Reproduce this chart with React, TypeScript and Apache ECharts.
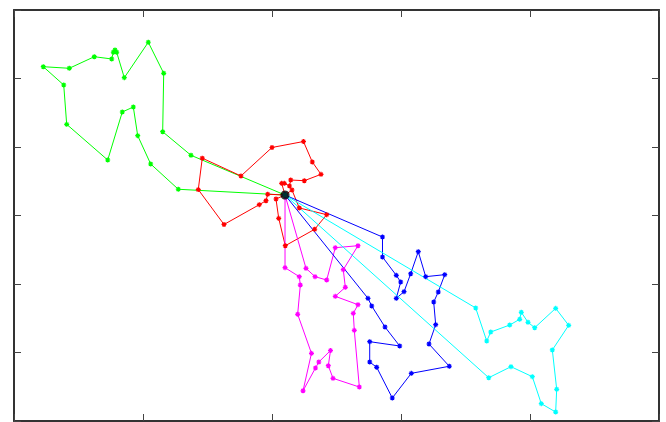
import React, { useEffect, useRef } from "react";
import * as echarts from "echarts";

const depot: [number, number] = [42.02, 32.99];

const greenRoute: [number, number][] = [
  [42.02, 32.99], [27.44, 38.79], [23.05, 42.23], [23.21, 50.76], [20.82, 55.29],
  [17.10, 50.12], [15.92, 53.83], [15.66, 54.16], [15.40, 53.83], [15.15, 52.85],
  [12.45, 53.18], [8.57, 51.49], [4.54, 51.72], [7.71, 49.05], [8.17, 43.31],
  [14.53, 38.10], [16.79, 45.11], [18.50, 45.84], [19.18, 41.65], [21.19, 37.52],
  [25.47, 33.83], [42.02, 32.99],
];

const redRoute: [number, number][] = [
  [42.02, 32.99], [43.10, 33.72], [44.23, 31.10], [48.48, 30.12], [46.62, 27.99],
  [42.06, 25.59], [41.04, 29.59], [40.62, 32.41], [42.02, 32.99],
  [39.33, 33.10], [39.07, 32.16], [38.03, 31.58], [32.56, 28.69], [28.57, 33.78],
  [29.19, 38.37], [35.19, 35.77], [40.00, 39.93], [44.88, 40.80], [46.25, 37.81],
  [47.60, 36.01], [45.01, 35.08], [42.90, 35.18], [42.71, 34.31], [41.91, 34.70],
  [41.50, 34.70], [42.02, 32.99],
];

const magentaRoute: [number, number][] = [
  [42.02, 32.99], [42.02, 22.38], [44.23, 21.07], [44.39, 19.85], [43.98, 15.58],
  [46.12, 9.88], [44.81, 4.41], [46.74, 7.74], [47.26, 8.61], [49.07, 10.29],
  [48.73, 8.07], [49.46, 6.23], [53.54, 4.96], [52.76, 13.24], [52.60, 15.72],
  [53.33, 16.98], [49.81, 18.20], [51.37, 19.52], [51.05, 22.09], [53.33, 25.59],
  [49.81, 25.30], [48.48, 20.58], [46.67, 21.07], [45.27, 22.29], [42.02, 32.99],
];

const blueRoute: [number, number][] = [
  [42.02, 32.99], [57.13, 26.86], [57.13, 23.94], [59.27, 21.27], [59.95, 20.29],
  [59.27, 17.91], [60.47, 18.88], [61.50, 21.50], [62.68, 24.72], [63.83, 21.07],
  [66.78, 21.36], [65.78, 18.83], [65.07, 17.37], [65.38, 14.06], [64.34, 11.24],
  [67.49, 7.99], [61.60, 6.96], [58.65, 3.36], [56.23, 7.84], [55.15, 8.61],
  [55.15, 11.58], [59.80, 10.95], [57.52, 13.72], [55.46, 16.79], [54.88, 17.91],
  [42.02, 32.99],
];

const cyanRoute: [number, number][] = [
  [42.02, 32.99], [71.58, 16.50], [73.29, 11.68], [73.91, 12.99], [76.85, 14.01],
  [78.40, 14.85], [78.65, 15.87], [79.69, 14.41], [80.73, 13.62], [83.98, 16.45],
  [86.00, 13.97], [83.46, 10.37], [84.14, 4.63], [83.98, 1.31], [81.75, 2.53],
  [80.36, 6.47], [77.05, 7.93], [73.60, 6.32], [42.02, 32.99],
];

const routes = [
  { name: "Route 1", data: greenRoute, color: "#00ff00" },
  { name: "Route 2", data: redRoute, color: "#ff0000" },
  { name: "Route 3", data: magentaRoute, color: "#ff00ff" },
  { name: "Route 4", data: blueRoute, color: "#0000ff" },
  { name: "Route 5", data: cyanRoute, color: "#00ffff" },
];

const STAR = "path://M5,0L5,10M0,5L10,5M1.5,1.5L8.5,8.5M1.5,8.5L8.5,1.5";

export default function App() {
  const ref = useRef<HTMLDivElement>(null);
  useEffect(() => {
    if (!ref.current) return;
    const chart = echarts.init(ref.current, null, { renderer: "svg" });
    const axisLine = { show: true, onZero: false, lineStyle: { color: "#333333", width: 2 } };
    const axisTick = { show: true, inside: true, length: 7, lineStyle: { color: "#444444", width: 1 } };
    const xBase = {
      type: "value" as const, min: 0, max: 100, interval: 20,
      axisLine, axisTick, axisLabel: { show: false }, splitLine: { show: false },
    };
    const yBase = {
      type: "value" as const, min: 0, max: 60, interval: 10,
      axisLine, axisTick, axisLabel: { show: false }, splitLine: { show: false },
    };
    chart.setOption({
      animation: false,
      backgroundColor: "#ffffff",
      grid: { left: 14, right: 7, top: 10, bottom: 1, containLabel: false },
      xAxis: [
        { ...xBase, position: "bottom" },
        { ...xBase, position: "top" },
      ],
      yAxis: [
        { ...yBase, position: "left" },
        { ...yBase, position: "right" },
      ],
      series: [
        ...routes.map((r) => ({
          name: r.name,
          type: "line",
          data: r.data,
          xAxisIndex: 0,
          yAxisIndex: 0,
          symbol: STAR,
          symbolSize: 5,
          showAllSymbol: true,
          lineStyle: { color: r.color, width: 1 },
          itemStyle: { color: r.color, borderColor: r.color, borderWidth: 1.2 },
          emphasis: { disabled: true },
        })),
        {
          name: "Depot",
          type: "scatter",
          data: [depot],
          symbol: "circle",
          symbolSize: 9,
          itemStyle: { color: "#000000" },
          z: 5,
        },
      ],
    });
    return () => chart.dispose();
  }, []);
  return (
    <div
      ref={ref}
      style={{ position: "fixed", left: 0, top: 0, width: 666, height: 422 }}
    />
  );
}
